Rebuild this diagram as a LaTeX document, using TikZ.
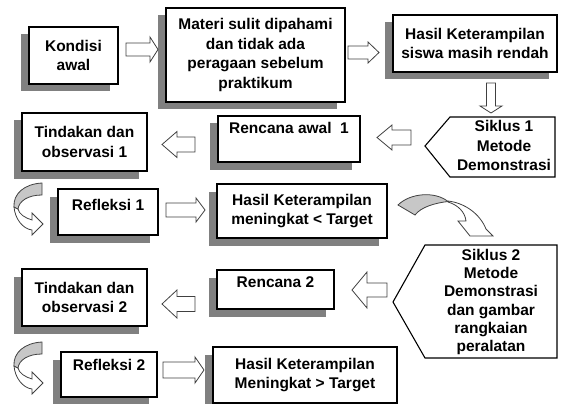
\documentclass[tikz,border=0pt]{standalone}
\usepackage{fontspec}
\setmainfont{Liberation Sans}
\usetikzlibrary{shadows}
\newcommand\fsA{\fontsize{15.5}{19.5}\selectfont\bfseries}
\newcommand\fsB{\fontsize{15.5}{18.2}\selectfont\bfseries}
% tail x, tail y, angle, length, head length, head half width, shaft half width
\newcommand\blkarrow[7]{\draw[arr,shift={(#1,#2)},rotate=#3] (0,-#7) -- (#4-#5,-#7) -- (#4-#5,-#6) -- (#4,0) -- (#4-#5,#6) -- (#4-#5,#7) -- (0,#7) -- cycle;}
\tikzset{
  shad/.style={drop shadow={shadow xshift=-8.5pt, shadow yshift=-7.5pt, fill=black!50, opacity=1}},
  box/.style={draw=black, line width=1.1pt, fill=white, inner sep=0pt, align=center, font=\fsA, shad},
  pent/.style={draw=black, line width=1.1pt, fill=white},
  txt/.style={inner sep=0pt, align=center, font=\fsA},
  arr/.style={draw=black!75, line width=0.8pt, fill=white, line join=miter},
  backband/.style={draw=black!75, line width=0.8pt, fill=black!22},
  curl/.pic={
    \draw[arr] (14,207) .. controls (15,219) and (23,229) .. (32,230) -- (32,235) -- (43,224) -- (32,213) -- (32,220) .. controls (25,218) and (19,214) .. (18,209) -- cycle;
    \draw[backband] (42,183) .. controls (24,184) and (13,194) .. (14,207) -- (18,209) .. controls (19,201) and (28,195) .. (42,195) -- cycle;
  }
}
\begin{document}
\begin{tikzpicture}[x=1pt,y=-1pt]
\useasboundingbox (0,0) rectangle (563,404);

% boxes
\node[box, minimum width=89pt, minimum height=57pt] (kond) at (73.5,55.5) {Kondisi\\awal};
\node[box, minimum width=179pt, minimum height=94pt] (mat) at (255.5,55) {Materi sulit dipahami\\dan tidak ada\\peragaan sebelum\\praktikum};
\node[box, minimum width=164pt, minimum height=57pt] (has1) at (475,43.5) {Hasil Keterampilan\\siswa masih rendah};
\node[box, minimum width=142pt, text height=17.5pt, text depth=28.5pt] (ren1) at (289,139) {Rencana awal~ 1};
\node[box, minimum width=125pt, minimum height=58pt] (tin1) at (84.5,142) {Tindakan dan\\observasi 1};
\node[box, minimum width=100pt, text height=21.5pt, text depth=24.5pt] (ref1) at (108,212) {Refleksi 1};
\node[box, minimum width=170pt, minimum height=54pt] (has2) at (302,211) {Hasil Keterampilan\\meningkat < Target};
\node[box, minimum width=117pt, text height=17.5pt, text depth=21.5pt] (ren2) at (275.5,289.5) {Rencana 2};
\node[box, minimum width=125pt, minimum height=57pt] (tin2) at (84.5,297.5) {Tindakan dan\\observasi 2};
\node[box, minimum width=96pt, text height=18.5pt, text depth=26.5pt] (ref2) at (109,374.5) {Refleksi 2};
\node[box, minimum width=184pt, minimum height=56pt] (has3) at (305,375) {Hasil Keterampilan\\Meningkat > Target};

% pentagons
\draw[pent] (425,146) -- (450,117) -- (555,117) -- (555,177) -- (450,177) -- cycle;
\node[txt] (sik1) at (504,145.5) {Siklus 1\\Metode\\Demonstrasi};
\draw[pent] (393,302) -- (425,245) -- (557,245) -- (557,358) -- (425,358) -- cycle;
\node[txt, font=\fsB] (sik2) at (491,302) {Siklus 2\\Metode\\Demonstrasi\\dan gambar\\rangkaian\\peralatan};

% block arrows
\blkarrow{126}{49.5}{0}{32}{8}{12.5}{6.5}
\blkarrow{348}{52.5}{0}{31}{11}{10.5}{6.5}
\blkarrow{491}{83}{-90}{30}{7}{11}{4.5}
\blkarrow{411}{137.5}{180}{34}{15}{12.5}{7.5}
\blkarrow{195}{144.5}{180}{33}{15}{13}{7.5}
\blkarrow{166}{210}{0}{39}{9}{12}{7}
\blkarrow{387}{290}{180}{35}{15}{18}{7}
\blkarrow{195}{304}{180}{33}{15}{14}{7.5}
\blkarrow{163}{370}{0}{41}{9}{13}{8}

% curled arrows
\pic at (0,0) {curl};
\pic at (0,159) {curl};

% big curved arrow
\draw[arr] (448,201) .. controls (465,203) and (480,214) .. (486,229) -- (493,236) -- (470,236) -- (458,221) -- (466,221) .. controls (465,212) and (458,205) .. (448,202) -- cycle;
\draw[backband] (398,205) .. controls (410,193) and (435,191) .. (448,201.5) .. controls (435,203) and (421,207) .. (415,215) -- cycle;
\end{tikzpicture}
\end{document}
